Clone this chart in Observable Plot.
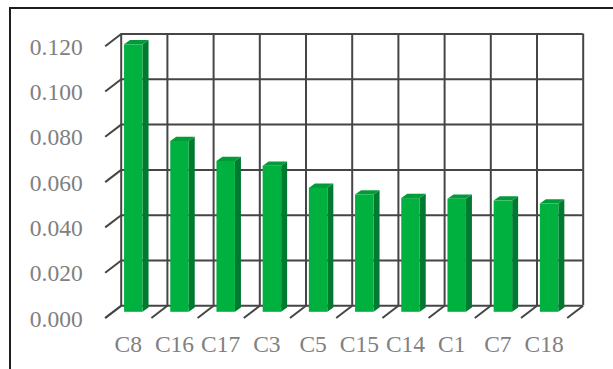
<!DOCTYPE html>
<html>
<head>
<meta charset="utf-8">
<script src="https://cdn.jsdelivr.net/npm/d3@7"></script>
<script src="https://cdn.jsdelivr.net/npm/@observablehq/plot@0.6"></script>
<style>
  html, body { margin: 0; padding: 0; background: #fff; }
  #wrap { position: relative; width: 613px; height: 369px; overflow: hidden; }
  #frame { position: absolute; left: 9px; top: 7px; width: 800px; height: 500px;
           border-left: 2px solid #1e1e1e; border-top: 2px solid #1e1e1e; }
  #chart { position: absolute; left: 0; top: 0; }
</style>
</head>
<body>
<div id="wrap"><div id="frame"></div><div id="chart"></div></div>
<script>
// Sample weights, sorted from largest to smallest
const categories = ["C8", "C16", "C17", "C3", "C5", "C15", "C14", "C1", "C7", "C18"];
const values = [0.1181, 0.0754, 0.0666, 0.0645, 0.0547, 0.0518, 0.0502, 0.0499, 0.0491, 0.0478];
const yTicks = [0, 0.02, 0.04, 0.06, 0.08, 0.10, 0.12];

// Back wall of the 3-D box, in pixels
const wall = {left: 120.7, right: 582.7, bottom: 305.3, top: 33.5};
// Oblique depth offsets in pixels: full floor depth, bar front face, bar back face
const depth = {floor: [-16, 12.2], front: [-10.5, 6.5], back: [-4.5, 2.2]};
const barWidth = 0.4; // fraction of a category slot

const colors = {front: "#00b140", side: "#007a30", top: "#009c38", grid: "#454545", text: "#808080"};

const n = categories.length;
const yMax = yTicks[yTicks.length - 1];
const pxX = (wall.right - wall.left) / n;
const pxY = (wall.bottom - wall.top) / yMax;
// shift a point (x in slot units, y in value units) back/forward by a pixel depth
const ox = d => d[0] / pxX;
const oy = d => -d[1] / pxY;

const F = depth.front, B = depth.back, D = depth.floor;
const bars = values.map((v, i) => ({key: categories[i], i, v}));

const fronts = bars.map(b => ({
  x1: b.i + 0.5 - barWidth / 2 + ox(F), x2: b.i + 0.5 + barWidth / 2 + ox(F),
  y1: oy(F), y2: b.v + oy(F)
}));
const sides = bars.flatMap(b => [
  {key: b.key, x: b.i + 0.5 + barWidth / 2 + ox(F), y1: oy(F), y2: b.v + oy(F)},
  {key: b.key, x: b.i + 0.5 + barWidth / 2 + ox(B), y1: oy(B), y2: b.v + oy(B)}
]);
const tops = bars.flatMap(b => [
  {key: b.key, y: b.v + oy(F), x1: b.i + 0.5 - barWidth / 2 + ox(F), x2: b.i + 0.5 + barWidth / 2 + ox(F)},
  {key: b.key, y: b.v + oy(B), x1: b.i + 0.5 - barWidth / 2 + ox(B), x2: b.i + 0.5 + barWidth / 2 + ox(B)}
]);
const slots = d3.range(n + 1);

const chart = Plot.plot({
  width: 613,
  height: 369,
  margin: 0,
  style: {background: "transparent", fontFamily: "'Liberation Serif', 'Times New Roman', serif"},
  x: {domain: [0, n], range: [wall.left, wall.right], axis: null},
  y: {domain: [0, yMax], range: [wall.bottom, wall.top], axis: null},
  marks: [
    // back wall grid
    Plot.ruleY(yTicks, {y: d => d, x1: 0, x2: n, stroke: colors.grid, strokeWidth: 2}),
    Plot.ruleX(slots, {x: d => d, y1: 0, y2: yMax, stroke: colors.grid, strokeWidth: 2}),
    // side wall and floor gridlines running toward the viewer
    Plot.link(yTicks, {x1: 0, y1: d => d, x2: ox(D), y2: d => d + oy(D), stroke: colors.grid, strokeWidth: 2}),
    Plot.link(slots, {x1: d => d, y1: 0, x2: d => d + ox(D), y2: oy(D), stroke: colors.grid, strokeWidth: 2}),
    // 3-D columns
    Plot.areaY(sides, {x: "x", y1: "y1", y2: "y2", z: "key", fill: colors.side, curve: "linear"}),
    Plot.areaX(tops, {y: "y", x1: "x1", x2: "x2", z: "key", fill: colors.top, curve: "linear"}),
    Plot.rect(fronts, {x1: "x1", x2: "x2", y1: "y1", y2: "y2", fill: colors.front}),
    // value labels on the side wall
    Plot.text(yTicks, {
      x: ox(D), y: d => d + oy(D), text: d => d3.format(".3f")(d),
      textAnchor: "end", dx: -22.5, dy: 1, fontSize: 23.5, fill: colors.text
    }),
    // category labels in front of the floor
    Plot.text(categories, {
      x: (d, i) => i + 0.5 + ox(D), y: oy(D), text: d => d,
      dy: 26.5, fontSize: 23.5, fill: colors.text
    })
  ]
});
document.getElementById("chart").appendChild(chart);
</script>
</body>
</html>
